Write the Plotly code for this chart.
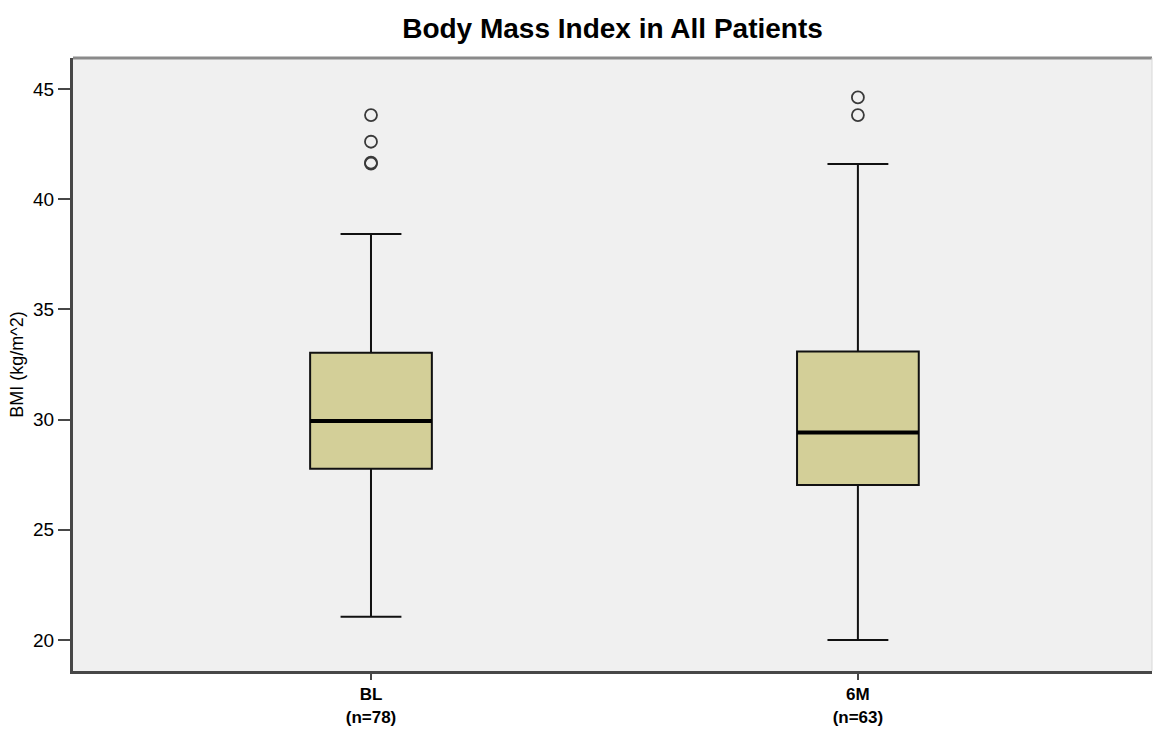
import plotly.graph_objects as go

# Group labels and summary statistics for BMI (kg/m^2)
groups = ["BL", "6M"]
group_n = [78, 63]
q1 = [27.77, 27.03]
median = [29.94, 29.41]
q3 = [33.03, 33.09]
lower_whisker = [21.05, 20.0]
upper_whisker = [38.42, 41.6]
outliers = [[43.82, 42.61, 41.62, 41.66], [44.62, 43.82]]

y_ticks = [20, 25, 30, 35, 40, 45]

BOX_WIDTH = 0.25
FILL = "#d3cf98"
AXIS_DARK = "#474747"

fig = go.Figure()

for i, g in enumerate(groups):
    fig.add_trace(go.Box(
        x=[i], q1=[q1[i]], median=[median[i]], q3=[q3[i]],
        lowerfence=[lower_whisker[i]], upperfence=[upper_whisker[i]],
        width=BOX_WIDTH, whiskerwidth=0.5,
        fillcolor=FILL, line=dict(color="#111111", width=2),
        boxpoints=False, showlegend=False, hoverinfo="skip",
    ))
    # heavier median bar
    fig.add_trace(go.Scatter(
        x=[i - BOX_WIDTH / 2, i + BOX_WIDTH / 2], y=[median[i], median[i]],
        mode="lines", line=dict(color="#000000", width=4),
        showlegend=False, hoverinfo="skip",
    ))
    # outlying cases
    fig.add_trace(go.Scatter(
        x=[i] * len(outliers[i]), y=outliers[i], mode="markers",
        marker=dict(symbol="circle-open", size=12, color="#3a3a3a",
                    line=dict(width=1.8, color="#3a3a3a")),
        showlegend=False, hoverinfo="skip",
    ))

tick_text = [f"<b>{g}</b><br><b>(n={n})</b>" for g, n in zip(groups, group_n)]

fig.update_layout(
    width=1153, height=731,
    margin=dict(l=73, r=1, t=58, b=60),
    paper_bgcolor="white", plot_bgcolor="#f0f0f0",
    font=dict(family="Liberation Sans, Arial, sans-serif", color="#000000"),
    title=dict(text="<b>Body Mass Index in All Patients</b>",
               x=0.5, xanchor="center", xref="paper",
               y=1 - 28 / 731, yref="container", yanchor="middle",
               font=dict(size=28, color="#000000")),
    xaxis=dict(range=[-0.612, 1.604], tickmode="array", tickvals=list(range(len(groups))),
               ticktext=tick_text, showgrid=False, zeroline=False, automargin=False,
               showline=True, linecolor=AXIS_DARK, linewidth=3,
               ticks="outside", ticklen=6, tickwidth=2, tickcolor=AXIS_DARK,
               tickfont=dict(size=17, color="#000000")),
    yaxis=dict(range=[18.59, 46.41], tickmode="array", tickvals=y_ticks,
               showgrid=False, zeroline=False, automargin=False,
               showline=True, linecolor=AXIS_DARK, linewidth=3,
               ticks="outside", ticklen=12, tickwidth=2, tickcolor=AXIS_DARK,
               tickfont=dict(size=19, color="#000000"),
               title=dict(text="BMI (kg/m^2)", font=dict(size=18, color="#000000"),
                          standoff=5)),
)

# frame: grey top edge and faint right edge
fig.add_shape(type="line", xref="paper", yref="paper", x0=0, x1=1, y0=1, y1=1,
              line=dict(color="#8a8a8a", width=3))
fig.add_shape(type="line", xref="paper", yref="paper", x0=1, x1=1, y0=0, y1=1,
              line=dict(color="#d8d8d8", width=1))

fig.write_html("out.html")
